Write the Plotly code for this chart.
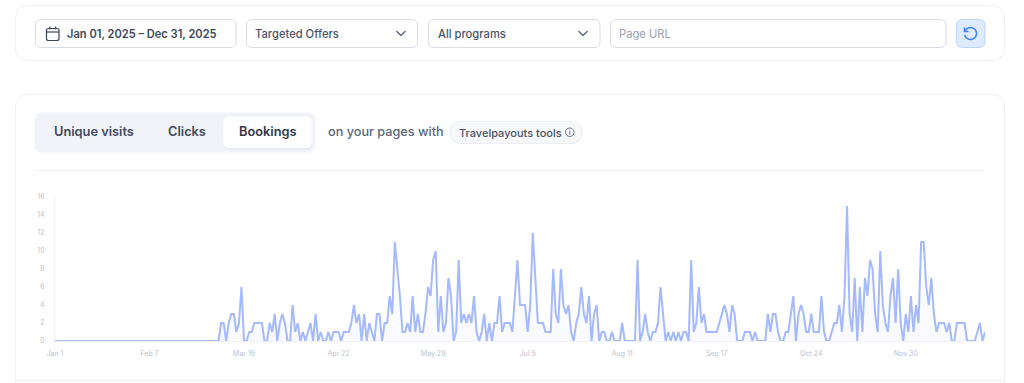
import math
import pandas as pd
import plotly.graph_objects as go

START_DATE = "2025-01-01"
TICK_DATES = ["2025-01-01", "2025-02-07", "2025-03-16", "2025-04-22", "2025-05-29",
              "2025-07-05", "2025-08-11", "2025-09-17", "2025-10-24", "2025-11-30"]
TICK_LABELS = ["Jan 1", "Feb 7", "Mar 16", "Apr 22", "May 29", "Jul 5", "Aug 11", "Sep 17", "Oct 24", "Nov 30"]
Y_TICKS = [0, 2, 4, 6, 8, 10, 12, 14, 16]

JAN_MAR = [0, 0, 0, 0, 0, 0, 0, 0, 0, 0, 0, 0, 0, 0, 0, 0, 0, 0, 0, 0, 0, 0, 0, 0, 0, 0, 0, 0, 0, 0, 0, 0,
           0, 0, 0, 0, 0, 0, 0, 0, 0, 0, 0, 0, 0, 0, 0, 0, 0, 0, 0, 0, 0, 0, 0, 0, 0, 0, 0, 0, 0, 0, 0, 0, 0,
           2, 2, 0, 2, 3, 3, 1, 2, 6, 0, 0, 1, 1, 2, 2, 2, 2, 0, 0, 2, 1, 3, 0]
SPRING = [2, 3, 2, 0, 0, 4, 1, 2, 0, 1, 0, 1, 2, 0, 3, 0, 1, 0, 0, 1, 0, 1, 1, 1, 0, 1, 1, 1, 2, 4, 2, 3,
          0, 3, 0, 2, 1, 0, 3, 3, 0, 2, 2, 5, 3, 11, 8, 5, 1, 1, 2, 1, 5, 1, 3, 1, 1, 3, 6, 5, 9, 10, 1,
          5, 1, 2, 7, 5, 0, 1, 9, 2, 3, 2, 3, 2, 5, 1, 0, 1, 3, 0, 2, 0, 2, 2, 5, 1, 2, 2, 2, 1, 5]
SUMMER = [9, 4, 4, 4, 1, 4, 12, 7, 2, 2, 2, 1, 1, 1, 8, 3, 2, 8, 4, 3, 4, 1, 0, 2, 3, 6, 3, 2, 5, 0, 3, 4,
          0, 1, 1, 0, 0, 1, 0, 0, 0, 2, 0, 0, 0, 0, 0, 9, 0, 1, 3, 1, 0, 1, 1, 2, 6, 3, 0, 1, 0, 1, 0, 1,
          0, 1, 1, 0, 9, 1, 2, 6, 2, 3, 1, 1, 1, 1, 1, 2, 3, 4, 3, 1, 4, 3, 0, 0, 0, 1, 1, 1]
AUTUMN = [0, 1, 0, 0, 0, 0, 3, 1, 3, 3, 1, 0, 0, 1, 1, 3, 5, 0, 3, 4, 3, 1, 1, 3, 1, 1, 1, 5, 1, 0, 0, 1,
          2, 2, 4, 1, 5, 15, 3, 1, 7, 0, 6, 1, 7, 5, 9, 8, 3, 1, 10, 4, 2, 1, 5, 7, 2, 8, 2, 0, 3, 1, 5,
          1, 4, 2, 11, 11, 6, 4, 7, 3, 1, 2, 2, 2, 1, 2, 0, 0, 2, 2, 2, 2, 0, 0, 0, 0, 1, 2, 0, 1]
BOOKINGS = JAN_MAR + SPRING + SUMMER + AUTUMN
DATES = pd.date_range(START_DATE, periods=len(BOOKINGS), freq="D")

W, H = 1024, 383
px = lambda x: x / W
py = lambda y: 1 - y / H
shapes, notes = [], []


def rrect(x0, y0, x1, y1, r, fill="#ffffff", line="#e2e4ec", lw=1):
    p = (f"M {px(x0+r)} {py(y0)} L {px(x1-r)} {py(y0)} Q {px(x1)} {py(y0)} {px(x1)} {py(y0+r)} "
         f"L {px(x1)} {py(y1-r)} Q {px(x1)} {py(y1)} {px(x1-r)} {py(y1)} "
         f"L {px(x0+r)} {py(y1)} Q {px(x0)} {py(y1)} {px(x0)} {py(y1-r)} "
         f"L {px(x0)} {py(y0+r)} Q {px(x0)} {py(y0)} {px(x0+r)} {py(y0)} Z")
    shapes.append(dict(type="path", path=p, xref="paper", yref="paper", fillcolor=fill,
                       line=dict(color=line, width=lw), layer="below"))


def poly(pts, color, lw=1.2):
    p = "M " + " L ".join(f"{px(x)} {py(y)}" for x, y in pts)
    shapes.append(dict(type="path", path=p, xref="paper", yref="paper",
                       line=dict(color=color, width=lw), layer="below"))


def text(x, y, s, size=12, color="#4a5468", weight=500):
    notes.append(dict(x=px(x), y=py(y), xref="paper", yref="paper", text=s, showarrow=False,
                      xanchor="left", yanchor="middle", borderpad=0, borderwidth=0,
                      font=dict(family="Inter", size=size, color=color, weight=weight)))


# cards
rrect(15.5, 5.5, 1004.5, 60.5, 13, line="#f0f1f5")
rrect(15.5, 94.5, 1004.5, 420, 13, line="#f0f1f5")
# filter row
rrect(35.5, 19.5, 236, 47.5, 6, line="#d9dce7")
rrect(246.5, 19.5, 417.5, 47.5, 6, line="#d9dce7")
rrect(428.5, 19.5, 600, 47.5, 6, line="#d9dce7")
rrect(610.5, 19.5, 946, 47.5, 6, line="#d9dce7")
rrect(956.5, 19.5, 985, 47.5, 6, fill="#deebfe", line="#bcd6fb")
# calendar icon
rrect(46.5, 28.5, 59, 40.5, 2, fill="rgba(0,0,0,0)", line="#3d4759", lw=1.2)
poly([(46.5, 32), (59, 32)], "#3d4759")
poly([(49.8, 26.5), (49.8, 29.5)], "#3d4759")
poly([(55.7, 26.5), (55.7, 29.5)], "#3d4759")
# chevrons
poly([(396.5, 31), (401, 35.5), (405.5, 31)], "#59637a", 1.3)
poly([(578.5, 31), (583, 35.5), (587.5, 31)], "#59637a", 1.3)
# refresh icon
arc = [(970.5 + 6 * math.cos(math.radians(a)), 33.5 + 6 * math.sin(math.radians(a))) for a in range(-150, 171, 15)]
poly(arc, "#3b82f6", 1.5)
poly([(964.5, 27.5), (964.5, 31.5), (968.5, 31.5)], "#3b82f6", 1.5)
text(67, 33.5, "Jan 01, 2025 – Dec 31, 2025", 11.1, "#3d4759", 600)
text(255, 33.5, "Targeted Offers", 11.2, "#4a5468", 500)
text(437.5, 33.5, "All programs", 11.2, "#4a5468", 500)
text(619, 33.5, "Page URL", 11.2, "#9aa1b1", 400)
# tabs
rrect(35, 113, 315, 152, 7, fill="#f1f3f8", line="#f1f3f8")
rrect(224.5, 119, 311.5, 150, 5, fill="#e9ebf2", line="#eceef4")
rrect(224, 117, 311, 147.5, 5, fill="#ffffff", line="#ffffff")
text(54, 132, "Unique visits", 12.8, "#3f4a60", 600)
text(167.5, 132, "Clicks", 12.8, "#3f4a60", 600)
text(239, 132, "Bookings", 12.8, "#2f384b", 600)
text(328, 132, "on your pages with", 12.7, "#5a657a", 500)
rrect(450, 121.5, 582, 143.5, 11, fill="#f7f8fa", line="#eceef3")
text(459, 132.5, "Travelpayouts tools", 11, "#4a5468", 500)
shapes.append(dict(type="circle", xref="paper", yref="paper", x0=px(565.5), x1=px(574), y0=py(128), y1=py(136.5),
                   line=dict(color="#6b7488", width=1), layer="below"))
poly([(569.8, 131), (569.8, 134.5)], "#6b7488", 1)
poly([(569.8, 129.6), (569.8, 130.4)], "#6b7488", 1)
# dividers
poly([(35, 170.5), (985, 170.5)], "#eff0f4", 1)
poly([(15, 380.5), (1004, 380.5)], "#f0f1f4", 1.5)

fig = go.Figure(go.Scatter(
    x=DATES, y=BOOKINGS, mode="lines", cliponaxis=False,
    line=dict(color="#a5b9fd", width=2),
    fill="tozeroy",
    fillgradient=dict(type="vertical", colorscale=[[0, "rgba(165,185,253,0.07)"], [1, "rgba(165,185,253,0.0)"]]),
    showlegend=False, hoverinfo="skip"))

fig.update_layout(
    width=W, height=H, margin=dict(l=0, r=0, t=0, b=0, pad=0), autosize=False,
    paper_bgcolor="#ffffff", plot_bgcolor="rgba(0,0,0,0)",
    shapes=shapes, annotations=notes, showlegend=False,
    font=dict(family="Inter"),
    xaxis=dict(domain=[px(55), px(985)], range=[DATES[0], DATES[-1]], tickmode="array", automargin=False,
               tickvals=TICK_DATES, ticktext=TICK_LABELS, tickangle=0, showgrid=False, zeroline=False,
               showline=True, linecolor="#f1f2f8", linewidth=1, ticks="outside", ticklen=6,
               tickcolor="rgba(0,0,0,0)", tickfont=dict(family="Inter", size=7, color="#bcc1ce")),
    yaxis=dict(domain=[py(341), py(197)], range=[0, 16], tickmode="array", tickvals=Y_TICKS, automargin=False,
               showgrid=False, zeroline=False, showline=True, linecolor="#eef0fb", linewidth=1,
               ticks="outside", ticklen=8, tickcolor="rgba(0,0,0,0)",
               tickfont=dict(family="Inter", size=7, color="#bcc1ce")),
)

fig.write_html("out.html", config=dict(displayModeBar=False, responsive=False),
               default_width="1024px", default_height="383px",
               post_script="document.body.style.margin='0';document.body.style.overflow='hidden';")
